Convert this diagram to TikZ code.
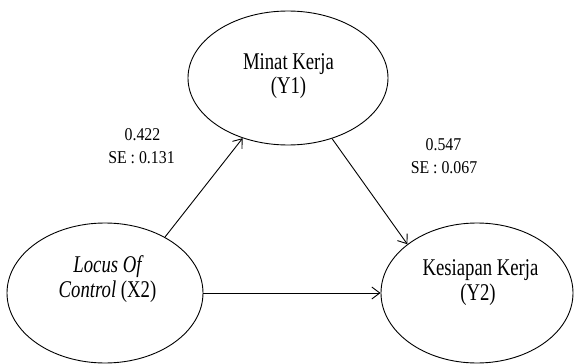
\documentclass[tikz,border=0pt]{standalone}
\usepackage{fontspec}
\setmainfont{Liberation Serif}
\newfontfamily\nodefont[FakeStretch=0.78]{Liberation Serif}
\newfontfamily\numfont[FakeStretch=0.88]{Liberation Serif}
\usetikzlibrary{shapes.geometric,arrows.meta}
\begin{document}
\begin{tikzpicture}[x=1pt,y=-1pt,
  var/.style={draw, ellipse, line width=0.9pt, inner sep=0pt},
  vtext/.style={anchor=base, inner sep=0pt, font=\nodefont\fontsize{24}{24}\selectfont},
  ntext/.style={anchor=base, inner sep=0pt, font=\numfont\fontsize{18}{20}\selectfont},
  path/.style={line width=0.9pt, -{Straight Barb[length=8pt,width=12pt,line width=0.9pt]}}
]
\useasboundingbox (0,0) rectangle (574,364);
% ellipses
\node[var, minimum width=200pt, minimum height=134pt] (T) at (288,78) {};
\node[var, minimum width=196pt, minimum height=140pt] (L) at (105,293) {};
\node[var, minimum width=192pt, minimum height=140pt] (R) at (477,293) {};
% texts
\node[vtext] (t1) at (288.5,69) {Minat Kerja};
\node[vtext] (t2) at (288.5,93) {(Y1)};
\node[vtext] (l1) at (107.5,272) {\itshape Locus Of};
\node[vtext] (l2) at (107.5,297) {\textit{Control} (X2)};
\node[vtext] (r1) at (480.5,275) {Kesiapan Kerja};
\node[vtext] (r2) at (478,300) {(Y2)};
% coefficient labels
\node[ntext] (a1) at (142.5,140) {0.422};
\node[ntext] (a2) at (141.5,163) {SE : 0.131};
\node[ntext] (b1) at (443.5,150) {0.547};
\node[ntext] (b2) at (444,173) {SE : 0.067};
% connectors
\draw[path] (L.43) -- (T.233);
\draw[path] (T.306) -- (R.145);
\draw[path] (L.east) -- (R.west);
\end{tikzpicture}
\end{document}
